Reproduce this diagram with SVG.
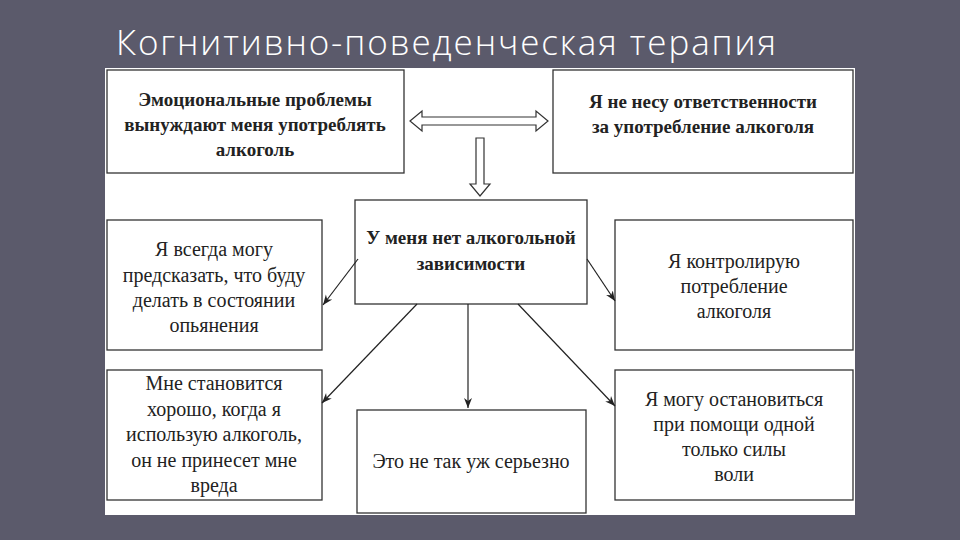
<svg xmlns="http://www.w3.org/2000/svg" width="960" height="540" viewBox="0 0 960 540">
<defs>
<marker id="ah" viewBox="0 0 10 10" refX="10" refY="5" markerWidth="10" markerHeight="10" orient="auto" markerUnits="userSpaceOnUse"><path d="M0,1 L10,5 L0,9 L3,5 Z" fill="#222"/></marker>
</defs>
<style>
.box{fill:#fff;stroke:#333;stroke-width:1.3}
.b{font-family:"Liberation Serif",serif;font-weight:bold;font-size:19px;fill:#222;text-anchor:middle}
.r{font-family:"Liberation Serif",serif;font-size:20px;fill:#222;text-anchor:middle}
.c{stroke:#222;stroke-width:1.2;fill:none;marker-end:url(#ah)}
</style>
<rect width="960" height="540" fill="#5b5a6b"/>
<text x="116" y="55" font-family="Open Sans, sans-serif" font-weight="300" font-size="35" fill="#fff" textLength="660">Когнитивно-поведенческая терапия</text>
<rect x="105" y="68" width="750" height="447" fill="#fff"/>
<g id="n1"><rect class="box" x="107" y="70" width="297" height="103"/>
<text class="b" x="255" y="106">Эмоциональные проблемы</text><text class="b" x="255" y="131">вынуждают меня употреблять</text><text class="b" x="255" y="156">алкоголь</text></g>
<g id="n2"><rect class="box" x="553" y="70" width="300" height="103"/>
<text class="b" x="703" y="108">Я не несу ответственности</text><text class="b" x="703" y="133">за употребление алкоголя</text></g>
<g id="n3"><rect class="box" x="355" y="200" width="232" height="104"/>
<text class="b" x="471" y="244">У меня нет алкогольной</text><text class="b" x="471" y="270">зависимости</text></g>
<g id="n4"><rect class="box" x="107" y="220" width="215" height="130"/>
<text class="r" x="214" y="256">Я всегда могу</text><text class="r" x="214" y="282">предсказать, что буду</text><text class="r" x="214" y="307">делать в состоянии</text><text class="r" x="214" y="332">опьянения</text></g>
<g id="n5"><rect class="box" x="615" y="220" width="238" height="130"/>
<text class="r" x="734" y="268">Я контролирую</text><text class="r" x="734" y="293">потребление</text><text class="r" x="734" y="318">алкоголя</text></g>
<g id="n6"><rect class="box" x="107" y="370" width="215" height="130"/>
<text class="r" x="214" y="390">Мне становится</text><text class="r" x="214" y="416">хорошо, когда я</text><text class="r" x="214" y="441">использую алкоголь,</text><text class="r" x="214" y="467">он не принесет мне</text><text class="r" x="214" y="492">вреда</text></g>
<g id="n7"><rect class="box" x="357" y="410" width="229" height="103"/>
<text class="r" x="471" y="468">Это не так уж серьезно</text></g>
<g id="n8"><rect class="box" x="615" y="370" width="238" height="130"/>
<text class="r" x="734" y="406">Я могу остановиться</text><text class="r" x="734" y="431">при помощи одной</text><text class="r" x="734" y="456">только силы</text><text class="r" x="734" y="481">воли</text></g>
<g id="connectors">
<path d="M410,121 L422,111 L422,117 L536,117 L536,111 L548,121 L536,131 L536,125 L422,125 L422,131 Z" fill="#fff" stroke="#333" stroke-width="1.2"/>
<path d="M476,138 L484,138 L484,184 L490,184 L480,196 L470,184 L476,184 Z" fill="#fff" stroke="#333" stroke-width="1.2"/>
<line class="c" x1="358" y1="259" x2="323" y2="305"/>
<line class="c" x1="587" y1="259" x2="615" y2="301"/>
<line class="c" x1="417" y1="304" x2="322" y2="403"/>
<line class="c" x1="468" y1="304" x2="468" y2="408"/>
<line class="c" x1="518" y1="304" x2="615" y2="406"/>
</g>
</svg>
